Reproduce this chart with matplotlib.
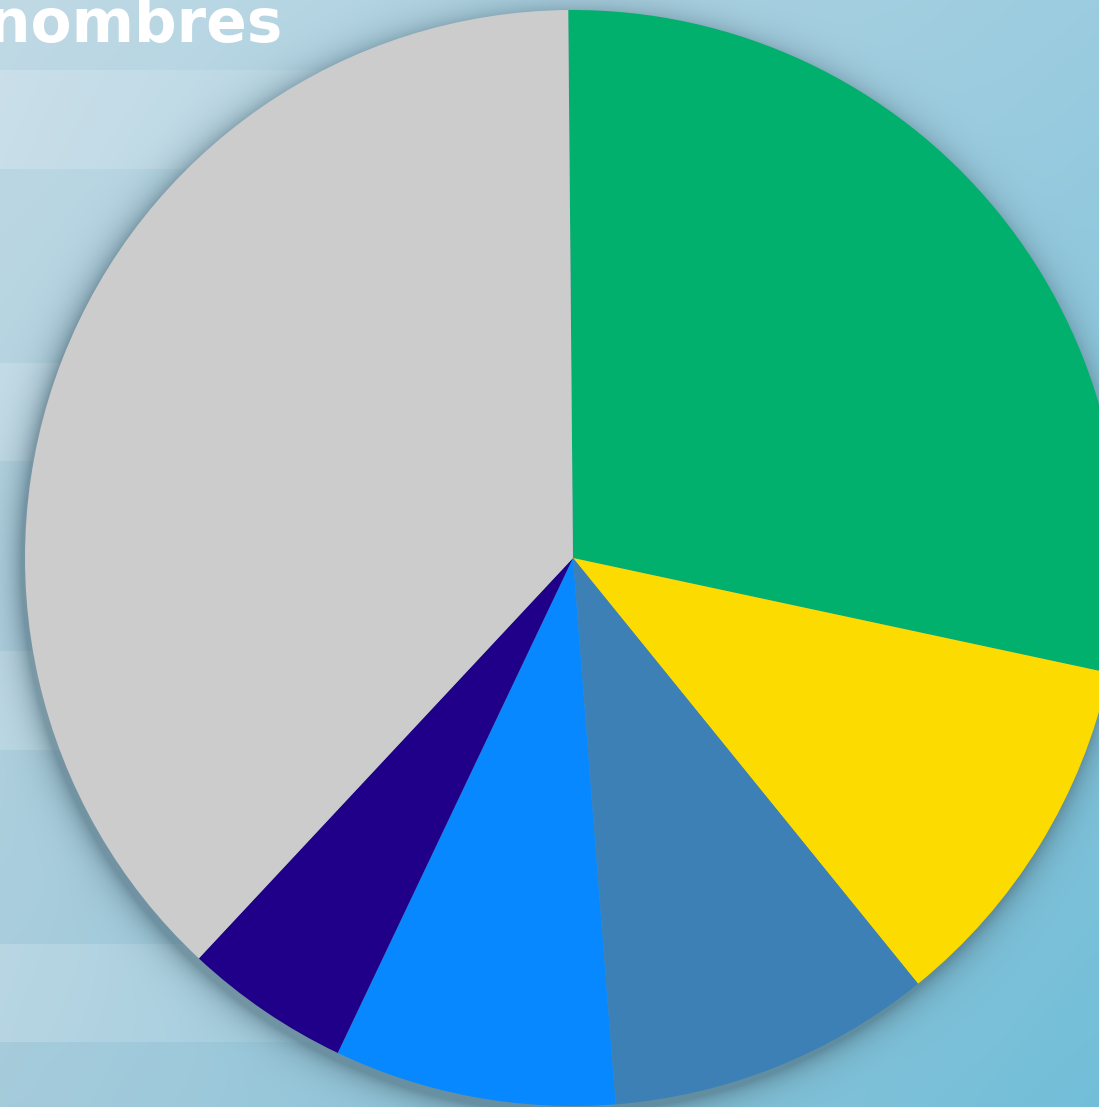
import numpy as np
import matplotlib
matplotlib.use("Agg")
import matplotlib.pyplot as plt

# =====================================
# data (share of each slice, clockwise from the top)
categories = ["Vert", "Jaune", "Bleu acier", "Bleu vif", "Indigo", "Autres"]
shares = [28.5, 10.8, 9.6, 8.3, 4.9, 37.9]
colors = ["#02b06e", "#fcdc00", "#3d80b5", "#0788ff", "#200088", "#cccccc"]
title = "nombres"

W, H = 1099, 1107
cx, cy, R = 573, 558, 548  # pie centre / radius in pixels

# =====================================
# background: soft blue gradient + light bands + drop shadow of the pie
yy, xx = np.mgrid[0:H, 0:W].astype(float)
u = xx / W
v = yy / H
tl = np.array([192, 217, 229]) / 255
tr = np.array([155, 204, 223]) / 255
bl = np.array([165, 203, 219]) / 255
br = np.array([114, 190, 216]) / 255
bg = ((1 - u)[..., None] * (1 - v)[..., None] * tl + u[..., None] * (1 - v)[..., None] * tr
      + (1 - u)[..., None] * v[..., None] * bl + u[..., None] * v[..., None] * br)

# lighter horizontal bands on the left side
bands = [(70, 169), (363, 461), (651, 750), (944, 1042)]
fade = np.clip(1 - xx / 700, 0, 1) * 0.18
for y0, y1 in bands:
    m = (yy >= y0) & (yy < y1)
    bg[m] = bg[m] + (1 - bg[m]) * fade[m][:, None]

# shadow around the pie (a bit stronger down-left)
d = np.hypot(xx - (cx - 4), yy - (cy + 6))
a = np.where(d > R - 2, 0.55 * np.exp(-np.clip(d - R, 0, None) / 13), 0.55)
shadow = np.array([70, 100, 115]) / 255
bg = bg * (1 - a[..., None]) + shadow * a[..., None]

fig = plt.figure(figsize=(W / 100, H / 100), dpi=100)
bg_ax = fig.add_axes([0, 0, 1, 1])
bg_ax.imshow(np.clip(bg, 0, 1), aspect="auto", interpolation="bilinear")
bg_ax.axis("off")

# =====================================
# pie
ax = fig.add_axes([(cx - R) / W, (H - cy - R) / H, 2 * R / W, 2 * R / H])
ax.pie(shares, colors=colors, startangle=90.5, counterclock=False,
       radius=1, wedgeprops=dict(linewidth=0))
ax.set_xlim(-1, 1)
ax.set_ylim(-1, 1)
ax.set_aspect("equal")
ax.axis("off")

fig.text(282 / W, 1 - 42 / H, title, ha="right", va="baseline",
         fontsize=43, color="white", fontweight="bold", family="DejaVu Sans")

fig.savefig("out.png", dpi=100)
